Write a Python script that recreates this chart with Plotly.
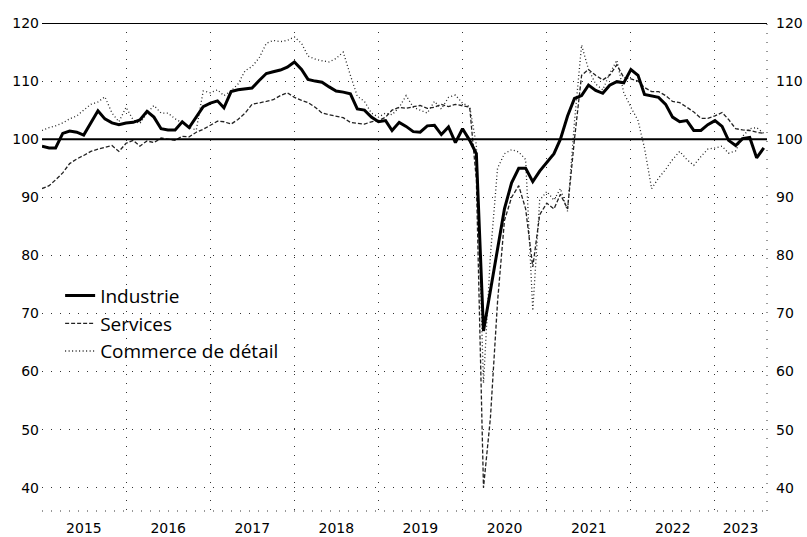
import pandas as pd
import plotly.graph_objects as go

months = pd.date_range("2015-01-01", periods=104, freq="MS")

industrie = [
    98.8, 98.5, 98.5, 101.0, 101.4, 101.2, 100.7, 102.7, 104.9, 103.5, 102.8, 102.5,
    102.8, 102.9, 103.3, 104.8, 103.8, 101.8, 101.6, 101.6, 103.0, 102.0, 103.8, 105.6,
    106.2, 106.6, 105.4, 108.2, 108.5, 108.7, 108.8, 110.1, 111.3, 111.6, 111.9, 112.4,
    113.3, 112.0, 110.3, 110.0, 109.8, 109.0, 108.3, 108.1, 107.8, 105.2, 105.0, 103.8,
    103.0, 103.2, 101.5, 102.9, 102.2, 101.3, 101.2, 102.3, 102.4, 100.8, 102.1, 99.4,
    101.8, 99.8, 97.5, 67.0, 74.0, 80.5, 88.0, 92.5, 95.0, 95.0, 92.7, 94.5,
    96.0, 97.5, 100.0, 104.0, 107.0, 107.5, 109.3, 108.4, 107.9, 109.3, 109.9, 109.7,
    112.0, 111.0, 107.7, 107.4, 107.2, 106.0, 103.8, 103.0, 103.2, 101.5, 101.5, 102.5,
    103.2, 102.2, 99.8, 98.9, 100.1, 100.3, 96.8, 98.5,
]

services = [
    91.5, 92.0, 93.0, 94.2, 95.8, 96.6, 97.2, 97.9, 98.3, 98.6, 98.9, 97.9,
    99.3, 99.8, 98.8, 99.7, 99.4, 100.2, 100.0, 99.8, 100.5, 100.4, 101.2, 101.7,
    102.4, 103.1, 103.0, 102.6, 103.4, 104.5, 106.0, 106.2, 106.5, 106.8, 107.5, 108.0,
    107.2, 106.7, 106.3, 105.5, 104.5, 104.2, 103.9, 103.7, 102.9, 102.7, 102.6, 103.0,
    103.2, 103.8, 105.0, 105.5, 105.3, 105.6, 105.8, 105.3, 105.5, 106.0, 105.6, 106.0,
    105.8, 105.5, 93.0, 40.0, 52.0, 72.0, 86.0, 90.0, 92.0, 88.0, 78.0, 87.0,
    89.0, 88.0, 90.5, 88.0, 100.0, 111.0, 112.0, 111.0, 110.2, 111.0, 112.8, 110.6,
    110.4, 110.0, 108.9, 108.2, 108.2, 107.5, 106.5, 106.3, 105.5, 104.7, 103.6, 103.6,
    104.0, 104.6, 103.4, 101.8, 101.6, 101.5, 101.2, 101.0,
]

commerce = [
    101.5, 102.0, 102.3, 102.8, 103.5, 104.0, 105.0, 106.0, 106.4, 107.3, 104.5, 103.0,
    105.5, 103.3, 102.7, 104.5, 105.8, 104.5, 104.5, 103.5, 102.8, 102.0, 101.6, 108.3,
    108.0, 108.5, 107.5, 108.3, 109.5, 111.8, 112.5, 114.0, 116.5, 117.0, 116.8, 117.0,
    117.6, 116.5, 114.3, 113.8, 113.5, 113.3, 113.9, 115.0, 111.0, 107.4, 106.5, 104.5,
    103.8, 104.5, 104.2, 105.5, 107.5, 105.5, 105.0, 104.5, 106.5, 105.2, 107.2, 107.6,
    106.2, 105.6, 99.0, 58.0, 80.0, 95.0, 97.5, 98.2, 97.8, 96.5, 70.5, 89.5,
    91.0, 89.5, 91.5, 87.6, 103.0, 116.2, 112.0, 109.5, 108.5, 111.3, 113.6, 108.0,
    105.5, 103.2, 98.5, 91.5, 93.3, 94.8, 96.5, 97.9, 96.5, 95.5, 97.0, 98.3,
    98.5, 98.8, 97.6, 98.0, 100.5, 101.8, 102.0, 101.0,
]

year_labels = ["2015", "2016", "2017", "2018", "2019", "2020", "2021", "2022", "2023"]
year_label_pos = ["2015-07-02", "2016-07-02", "2017-07-02", "2018-07-02", "2019-07-02",
                  "2020-07-02", "2021-07-02", "2022-07-02", "2023-04-22"]
y_ticks = [40, 50, 60, 70, 80, 90, 100, 110, 120]

FONT = "DejaVu Sans"
GRID_DASH = "1px,8px"
TICKFONT = dict(family=FONT, size=14, color="black")

fig = go.Figure()
fig.add_trace(go.Scatter(x=months, y=commerce, name="Commerce de détail", mode="lines",
                         line=dict(color="#222", width=1.3, dash="1px,2.5px")))
fig.add_trace(go.Scatter(x=months, y=services, name="Services", mode="lines",
                         line=dict(color="#222", width=1.3, dash="4px,2px")))
fig.add_trace(go.Scatter(x=months, y=industrie, name="Industrie", mode="lines",
                         line=dict(color="black", width=3)))
# right-hand axis (same scale)
fig.add_trace(go.Scatter(x=[months[0]], y=[None], yaxis="y2", showlegend=False,
                         hoverinfo="skip", mode="lines"))

yr = [36, 120]
fig.update_layout(
    width=807, height=537,
    margin=dict(l=42, r=40, t=23, b=26),
    paper_bgcolor="white", plot_bgcolor="white",
    font=dict(family=FONT, size=14, color="black"),
    showlegend=True,
    legend=dict(x=0.025, y=0.48, xanchor="left", yanchor="top",
                traceorder="reversed", bgcolor="rgba(0,0,0,0)",
                font=dict(family="Open Sans", size=19, color="black"),
                tracegroupgap=0, itemwidth=30),
    xaxis=dict(type="date", range=["2015-01-01", "2023-08-15"], automargin=False,
               tickmode="array", tickvals=year_label_pos, ticktext=year_labels,
               showgrid=False, ticks="", zeroline=False, showline=False,
               tickfont=TICKFONT, ticklabelstandoff=7,
               minor=dict(tickmode="linear", tick0="2015-01-01", dtick="M12",
                          showgrid=True, gridcolor="#333", griddash=GRID_DASH,
                          gridwidth=1, ticks="")),
    yaxis=dict(range=yr, tickvals=y_ticks, showgrid=True, gridcolor="#333",
               griddash=GRID_DASH, gridwidth=1, zeroline=False, showline=False,
               ticks="", tickfont=TICKFONT, ticklabelstandoff=2, automargin=False),
    yaxis2=dict(range=yr, tickvals=y_ticks, overlaying="y", side="right",
                showgrid=False, zeroline=False, showline=False, ticks="",
                tickfont=TICKFONT, ticklabelstandoff=8, automargin=False),
)

# solid reference lines at 100 and 120, dotted bottom and right frame
fig.add_shape(type="line", xref="paper", yref="y", x0=0, x1=1, y0=100, y1=100,
              line=dict(color="black", width=2))
fig.add_shape(type="line", xref="paper", yref="y", x0=0, x1=1, y0=120, y1=120,
              line=dict(color="black", width=2))
fig.add_shape(type="line", xref="paper", yref="paper", x0=0, x1=1, y0=0, y1=0,
              line=dict(color="#333", width=1, dash=GRID_DASH))
fig.add_shape(type="line", xref="paper", yref="paper", x0=1, x1=1, y0=0, y1=1,
              line=dict(color="#333", width=1, dash=GRID_DASH))

fig.write_html("out.html", config={"displayModeBar": False},
               post_script="document.body.style.margin='0px';")
